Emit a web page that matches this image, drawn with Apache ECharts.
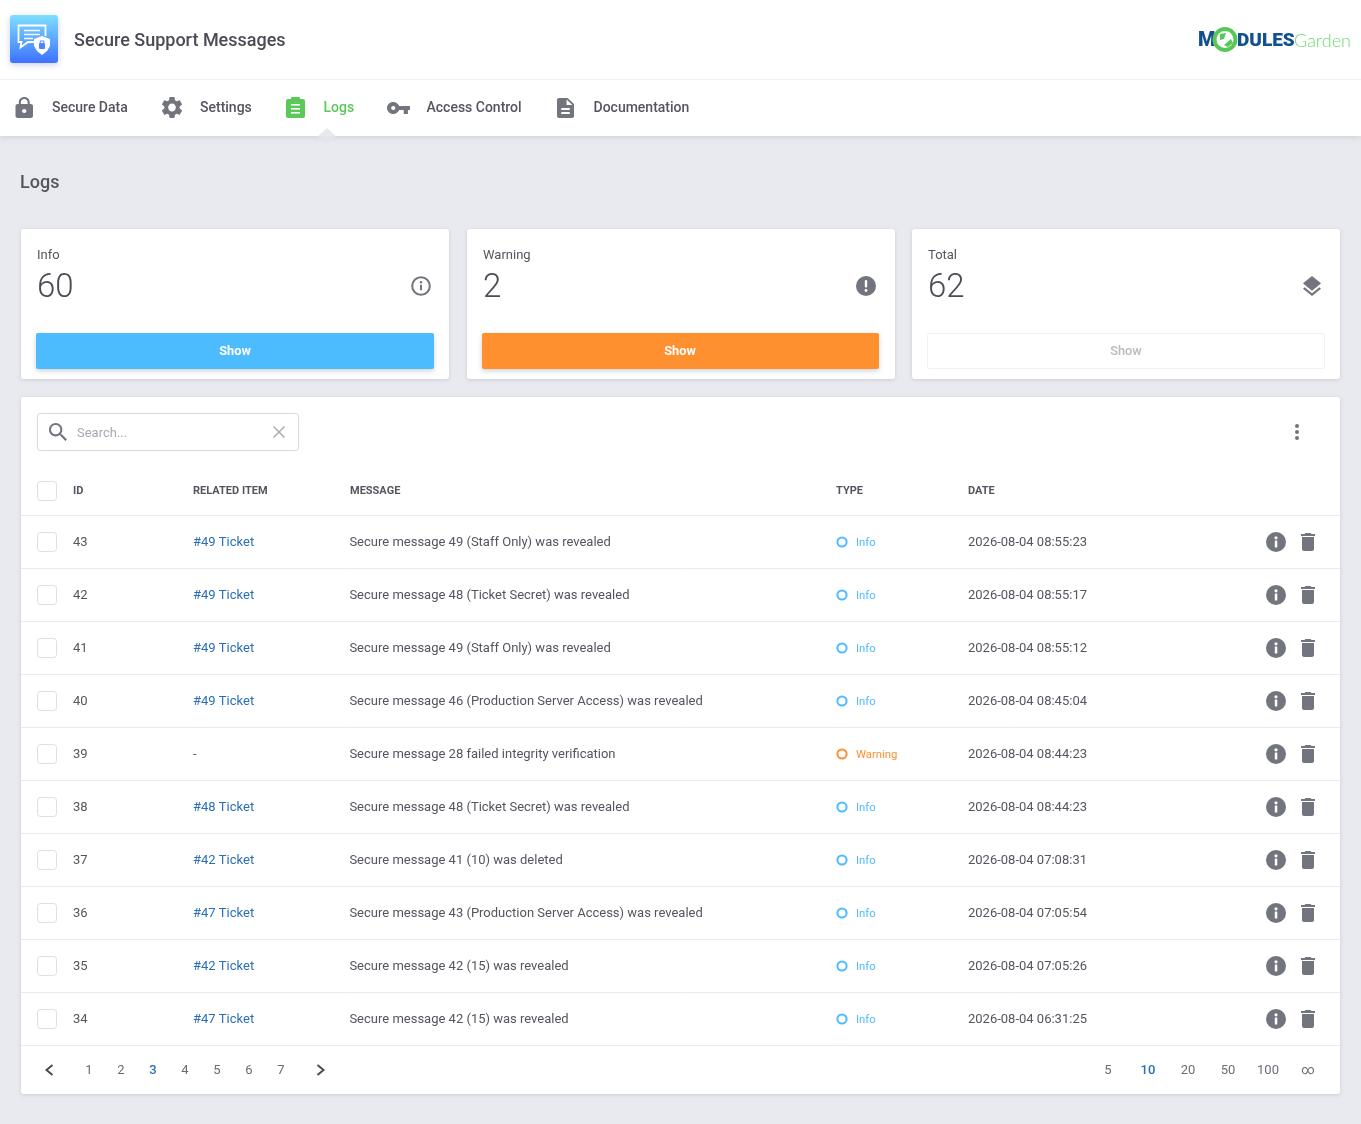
<!DOCTYPE html>
<html>
<head>
<meta charset="utf-8">
<title>Secure Support Messages</title>
<script src="https://cdn.jsdelivr.net/npm/echarts@6/dist/echarts.min.js"></script>
<style>
html,body{margin:0;padding:0;background:#e9eaef;}
#main{width:1361px;height:1124px;}
</style>
</head>
<body>
<div id="main"></div>
<script>
// 表格数据
var ids = ['43','42','41','40','39','38','37','36','35','34'];
var related = ['#49 Ticket','#49 Ticket','#49 Ticket','#49 Ticket','-','#48 Ticket','#42 Ticket','#47 Ticket','#42 Ticket','#47 Ticket'];
var messages = [
    'Secure message 49 (Staff Only) was revealed',
    'Secure message 48 (Ticket Secret) was revealed',
    'Secure message 49 (Staff Only) was revealed',
    'Secure message 46 (Production Server Access) was revealed',
    'Secure message 28 failed integrity verification',
    'Secure message 48 (Ticket Secret) was revealed',
    'Secure message 41 (10) was deleted',
    'Secure message 43 (Production Server Access) was revealed',
    'Secure message 42 (15) was revealed',
    'Secure message 42 (15) was revealed'
];
var types = ['Info','Info','Info','Info','Warning','Info','Info','Info','Info','Info'];
var dates = [
    '2026-08-04 08:55:23','2026-08-04 08:55:17','2026-08-04 08:55:12','2026-08-04 08:45:04','2026-08-04 08:44:23',
    '2026-08-04 08:44:23','2026-08-04 07:08:31','2026-08-04 07:05:54','2026-08-04 07:05:26','2026-08-04 06:31:25'
];
var headers = ['ID','RELATED ITEM','MESSAGE','TYPE','DATE'];
var headerX = [73,193,350,836,968];
var navLabels = ['Secure Data','Settings','Logs','Access Control','Documentation'];
var navX = [52,200,323.5,426.5,593.5];
var statLabels = ['Info','Warning','Total'];
var statValues = ['60','2','62'];
var pages = ['1','2','3','4','5','6','7'];
var perPage = ['5','10','20','50','100','∞'];

var FONT = 'Roboto';
var TEXT = '#54555e';
var ICON = '#72747e';
var BLUE = '#4dbcff';
var ORANGE = '#ff8f2e';
var LINK = '#2a6fb5';
var LINE = '#e9eaef';

var PATH_LOCK = 'M18 8h-1V6c0-2.76-2.24-5-5-5S7 3.24 7 6v2H6c-1.1 0-2 .9-2 2v10c0 1.1.9 2 2 2h12c1.1 0 2-.9 2-2V10c0-1.1-.9-2-2-2zm-6 9c-1.1 0-2-.9-2-2s.9-2 2-2 2 .9 2 2-.9 2-2 2zm3.1-9H8.9V6c0-1.71 1.39-3.1 3.1-3.1 1.71 0 3.1 1.39 3.1 3.1v2z';
var PATH_GEAR = 'M19.14 12.94c.04-.3.06-.61.06-.94 0-.32-.02-.64-.07-.94l2.03-1.58c.18-.14.23-.41.12-.61l-1.92-3.32c-.12-.22-.37-.29-.59-.22l-2.39.96c-.5-.38-1.03-.7-1.62-.94l-.36-2.54c-.04-.24-.24-.41-.48-.41h-3.84c-.24 0-.43.17-.47.41l-.36 2.54c-.59.24-1.13.57-1.62.94l-2.39-.96c-.22-.08-.47 0-.59.22L2.74 8.87c-.12.21-.08.47.12.61l2.03 1.58c-.05.3-.09.63-.09.94s.02.64.07.94l-2.03 1.58c-.18.14-.23.41-.12.61l1.92 3.32c.12.22.37.29.59.22l2.39-.96c.5.38 1.03.7 1.62.94l.36 2.54c.05.24.24.41.48.41h3.84c.24 0 .44-.17.47-.41l.36-2.54c.59-.24 1.13-.56 1.62-.94l2.39.96c.22.08.47 0 .59-.22l1.92-3.32c.12-.22.07-.47-.12-.61l-2.01-1.58zM12 15.6c-1.98 0-3.6-1.62-3.6-3.6s1.62-3.6 3.6-3.6 3.6 1.62 3.6 3.6-1.62 3.6-3.6 3.6z';
var PATH_KEY = 'M12.65 10C11.83 7.67 9.61 6 7 6c-3.31 0-6 2.69-6 6s2.69 6 6 6c2.61 0 4.83-1.67 5.65-4H17v4h4v-4h2v-4H12.65zM7 14c-1.1 0-2-.9-2-2s.9-2 2-2 2 .9 2 2-.9 2-2 2z';
var PATH_DOC = 'M14 2H6c-1.1 0-1.99.9-1.99 2L4 20c0 1.1.89 2 1.99 2H18c1.1 0 2-.9 2-2V8l-6-6zm2 16H8v-2h8v2zm0-4H8v-2h8v2zm-3-5V3.5L18.5 9H13z';
var PATH_SEARCH = 'M15.5 14h-.79l-.28-.27C15.41 12.59 16 11.11 16 9.5 16 5.91 13.09 3 9.5 3S3 5.91 3 9.5 5.91 16 9.5 16c1.61 0 3.09-.59 4.23-1.57l.27.28v.79l5 4.99L20.49 19l-4.99-5zm-6 0C7.01 14 5 11.99 5 9.5S7.01 5 9.5 5 14 7.01 14 9.5 11.99 14 9.5 14z';
var PATH_TRASH = 'M6 19c0 1.1.9 2 2 2h8c1.1 0 2-.9 2-2V7H6v12zM19 4h-3.5l-1-1h-5l-1 1H5v2h14V4z';
var PATH_LAYERS = 'M11.99 18.54l-7.37-5.73L3 14.07l9 7 9-7-1.63-1.27-7.38 5.74zM12 16l7.36-5.73L21 9l-9-7-9 7 1.63 1.27L12 16z';

// graphic组件不支持path,这些图标放到custom系列里画
var iconEls = [];

// 图形小工具
function txt(s, x, y, font, fill, align) {
    return {type:'text', silent:true, style:{text:s, x:x, y:y+2, font:font+' '+FONT, fill:fill, textAlign:align||'left', textVerticalAlign:'middle'}};
}
function box(x, y, w, h, fill, r, extra) {
    var style = {fill:fill};
    for (var k in (extra||{})) style[k] = extra[k];
    return {type:'rect', silent:true, shape:{x:x, y:y, width:w, height:h, r:r||0}, style:style};
}
function icon(d, x, y, w, h, fill) {
    iconEls.push({type:'path', shape:{pathData:d, layout:'cover', x:x, y:y, width:w, height:h}, style:{fill:fill}});
}
function dot(x, y, r, fill, extra) {
    var style = {fill:fill};
    for (var k in (extra||{})) style[k] = extra[k];
    return {type:'circle', silent:true, shape:{cx:x, cy:y, r:r}, style:style};
}
function seg(x1, y1, x2, y2, color, w) {
    return {type:'line', silent:true, shape:{x1:x1, y1:y1, x2:x2, y2:y2}, style:{stroke:color, lineWidth:w||1}};
}
function poly(points, fill) {
    return {type:'polygon', silent:true, shape:{points:points}, style:{fill:fill}};
}
function line(points, color, w) {
    return {type:'polyline', silent:true, shape:{points:points}, style:{stroke:color, lineWidth:w, fill:'none'}};
}

var cardShadow = {shadowBlur:4, shadowColor:'rgba(120,125,150,0.28)', shadowOffsetY:1};

function buildHeader() {
    var g = [];
    g.push(box(0,0,1361,136,'#ffffff',0,{shadowBlur:6, shadowColor:'rgba(120,125,150,0.25)', shadowOffsetY:1}));
    g.push(seg(0,79.5,1361,79.5,'#f0f1f4',1));
    // 应用图标
    g.push(box(10,15,48,48,new echarts.graphic.LinearGradient(0,0,0,1,[{offset:0,color:'#7ddfff'},{offset:1,color:'#3d72ff'}]),3,{shadowBlur:6, shadowColor:'rgba(90,110,170,0.3)', shadowOffsetY:2}));
    g.push(line([[37,42],[28,42],[20.5,47.5],[21.5,42],[18.5,42],[18.5,25.5],[45.5,25.5],[45.5,36]],'#ffffff',1.8));
    g.push(seg(24,30.5,40,30.5,'#ffffff',1.5));
    g.push(seg(24,34.5,40,34.5,'#ffffff',1.5));
    g.push(seg(24,38.5,33,38.5,'#ffffff',1.5));
    g.push(poly([[42,36],[50,39],[50,46],[47,51],[42,55],[37,51],[34,46],[34,39]],'#ffffff'));
    g.push(box(39,43,6,6,'#4a86ff',1));
    g.push(line([[40.2,43],[40.2,41],[43.8,41],[43.8,43]],'#4a86ff',1));
    g.push(txt('Secure Support Messages',74,39,'500 18px','#4a4b54'));
    // 右侧logo
    g.push(txt('M',1198,39,'900 20px','#12508f'));
    g.push(dot(1225,39.5,10.5,'#ffffff',{stroke:'#58c758',lineWidth:4}));
    g.push(poly([[1220,34],[1226,33],[1224,39],[1220,40]],'#58c758'));
    g.push(poly([[1224,45],[1231,39],[1233,43],[1228,47]],'#58c758'));
    g.push(txt('DULES',1237,39,'900 19px','#12508f'));
    g.push({type:'text', silent:true, style:{text:'Garden', x:1294, y:41, font:'300 18px Lato', fill:'#72d672', textVerticalAlign:'middle'}});
    // 导航
    for (var i = 0; i < navLabels.length; i++) {
        g.push(txt(navLabels[i],navX[i],106,'500 14px',i===2?'#5cc85a':TEXT));
    }
    icon(PATH_LOCK,15.5,97,17.5,21,ICON);
    icon(PATH_GEAR,162,97,20,21,ICON);
    g.push(box(286,99,19,19,'#5cc85a',2));
    g.push(box(291,97,9,4,'#5cc85a',1));
    g.push(box(291,104,9,1.6,'#ffffff'));
    g.push(box(291,108,9,1.6,'#ffffff'));
    g.push(box(291,112,9,1.6,'#ffffff'));
    icon(PATH_KEY,387,102,23,12,ICON);
    icon(PATH_DOC,557,98,17,20,ICON);
    // 当前页小三角
    g.push(poly([[318,136],[327,128],[336,136]],'#e8e9ee'));
    g.push(poly([[318,136],[336,136],[327,144]],'#e4e5ea'));
    g.push(txt('Logs',20,181,'500 18px',TEXT));
    return g;
}

function buildCards() {
    var g = [];
    var cardX = [21,467,912];
    var fills = [BLUE,'#ff9030','#ffffff'];
    for (var i = 0; i < 3; i++) {
        var x = cardX[i];
        g.push(box(x,229,428,150,'#ffffff',3,cardShadow));
        g.push(txt(statLabels[i],x+16,254,'400 13px',TEXT));
        g.push(txt(statValues[i],x+16,287,'300 33px','#4a4b54'));
        if (i < 2) {
            g.push(box(x+15,333,i===0?398:397,36,fills[i],2,{shadowBlur:5, shadowColor:'rgba(80,90,110,0.28)', shadowOffsetY:2}));
            g.push(txt('Show',x+(i===0?214:213),350,'700 12.8px','#ffffff','center'));
        } else {
            g.push(box(x+15.5,333.5,397,35,'#ffffff',2,{stroke:'#f0f1f4', lineWidth:1}));
            g.push(txt('Show',x+214,350,'500 12.8px','#b9bac0','center'));
        }
    }
    g.push(dot(421,286,8.8,'#ffffff',{stroke:ICON,lineWidth:2}));
    g.push(dot(421,282.3,1.2,ICON));
    g.push(box(420,284.8,2,5.5,ICON));
    g.push(dot(866,286,10,ICON));
    g.push(box(864.8,280,2.4,7.5,'#ffffff',1));
    g.push(dot(866,290.5,1.4,'#ffffff'));
    icon(PATH_LAYERS,1303,276,18,20,ICON);
    return g;
}

function buildTableFrame() {
    var g = [];
    g.push(box(21,397,1319,697,'#ffffff',3,cardShadow));
    // 搜索框
    g.push(box(37.5,413.5,261,37,'#ffffff',3,{stroke:'#d6d8e3', lineWidth:1}));
    icon(PATH_SEARCH,49,423,18,18,ICON);
    g.push(txt('Search...',77,432,'400 13px','#a7a9b1'));
    g.push(seg(273.5,426.5,284.5,437.5,'#a9abb3',1.5));
    g.push(seg(284.5,426.5,273.5,437.5,'#a9abb3',1.5));
    g.push(dot(1297,426,2,ICON));
    g.push(dot(1297,432,2,ICON));
    g.push(dot(1297,438,2,ICON));
    // 表头
    g.push(box(37.5,481.5,19,19,'#ffffff',3,{stroke:'#dcdee8', lineWidth:1}));
    for (var i = 0; i < headers.length; i++) {
        g.push(txt(headers[i],headerX[i],489,'700 11px',TEXT));
    }
    g.push(seg(21,515.5,1340,515.5,LINE,1));
    return g;
}

function buildFooter() {
    var g = [];
    g.push(line([[52.5,1065],[46.5,1070],[52.5,1075]],'#4a4b54',2));
    g.push(line([[317.5,1065],[323.5,1070],[317.5,1075]],'#4a4b54',2));
    for (var i = 0; i < pages.length; i++) {
        g.push(txt(pages[i],89+32*i,1069,i===2?'500 13px':'400 13px',i===2?LINK:'#6b6c74','center'));
    }
    for (var j = 0; j < perPage.length; j++) {
        g.push(txt(perPage[j],1108+40*j,1069,j===1?'500 13px':'400 13px',j===1?LINK:'#6b6c74','center'));
    }
    return g;
}

// 每一行用custom系列画,位置走隐藏坐标轴
function renderRow(params, api) {
    var i = api.value(1);
    var y = api.coord([0,i])[1];
    var iy = y - 0.5;
    function cx(v) { return api.coord([v,i])[0]; }
    var warn = types[i] === 'Warning';
    var color = warn ? ORANGE : BLUE;
    var rowFont = '400 13px ' + FONT;
    function cell(s, x, fill, font, dy) {
        return {type:'text', style:{text:s, x:cx(x), y:y+(dy||0), font:font||rowFont, fill:fill, textVerticalAlign:'middle'}};
    }
    var children = [
        {type:'rect', shape:{x:cx(37.5), y:y-10, width:19, height:19, r:3}, style:{fill:'#ffffff', stroke:'#dcdee8', lineWidth:1}},
        cell(ids[i],73,TEXT),
        cell(related[i],193,related[i]==='-'?TEXT:LINK),
        cell(messages[i],349.4,TEXT),
        {type:'circle', shape:{cx:cx(842), cy:iy, r:4.6}, style:{fill:'#ffffff', stroke:color, lineWidth:2}},
        cell(types[i],856,color,'400 11.3px '+FONT,1),
        cell(dates[i],968,TEXT),
        {type:'circle', shape:{cx:cx(1276), cy:iy, r:10}, style:{fill:ICON}},
        {type:'circle', shape:{cx:cx(1276), cy:iy-4.2, r:1.6}, style:{fill:'#ffffff'}},
        {type:'rect', shape:{x:cx(1274.8), y:iy-1.6, width:2.5, height:7, r:0.5}, style:{fill:'#ffffff'}},
        {type:'path', shape:{pathData:PATH_TRASH, layout:'cover', x:cx(1301), y:iy-9, width:14, height:18}, style:{fill:ICON}},
        {type:'line', shape:{x1:cx(21), y1:y+26, x2:cx(1340), y2:y+26}, style:{stroke:LINE, lineWidth:1}}
    ];
    return {type:'group', children:children};
}

function showPage() {
    var myChart = echarts.init(document.getElementById('main'));
    var graphicEls = [].concat(buildHeader(), buildCards(), buildTableFrame(), buildFooter());
    var option = {
        animation: false,
        backgroundColor: '#e9eaef',
        tooltip: {show:false},
        graphic: {elements: graphicEls},
        grid: {left:0, top:516, width:1361, height:530, containLabel:false},
        xAxis: {type:'value', min:0, max:1361, show:false},
        yAxis: {type:'category', data:ids, inverse:true, show:false},
        series: [{
            type: 'custom',
            silent: true,
            clip: false,
            encode: {x:0, y:1},
            data: ids.map(function (id, i) { return [0,i]; }),
            renderItem: renderRow
        }, {
            type: 'custom',
            silent: true,
            clip: false,
            data: [[0,0]],
            renderItem: function () {
                return {type:'group', children:iconEls};
            }
        }]
    };
    myChart.setOption(option);
}
showPage();
</script>
</body>
</html>
